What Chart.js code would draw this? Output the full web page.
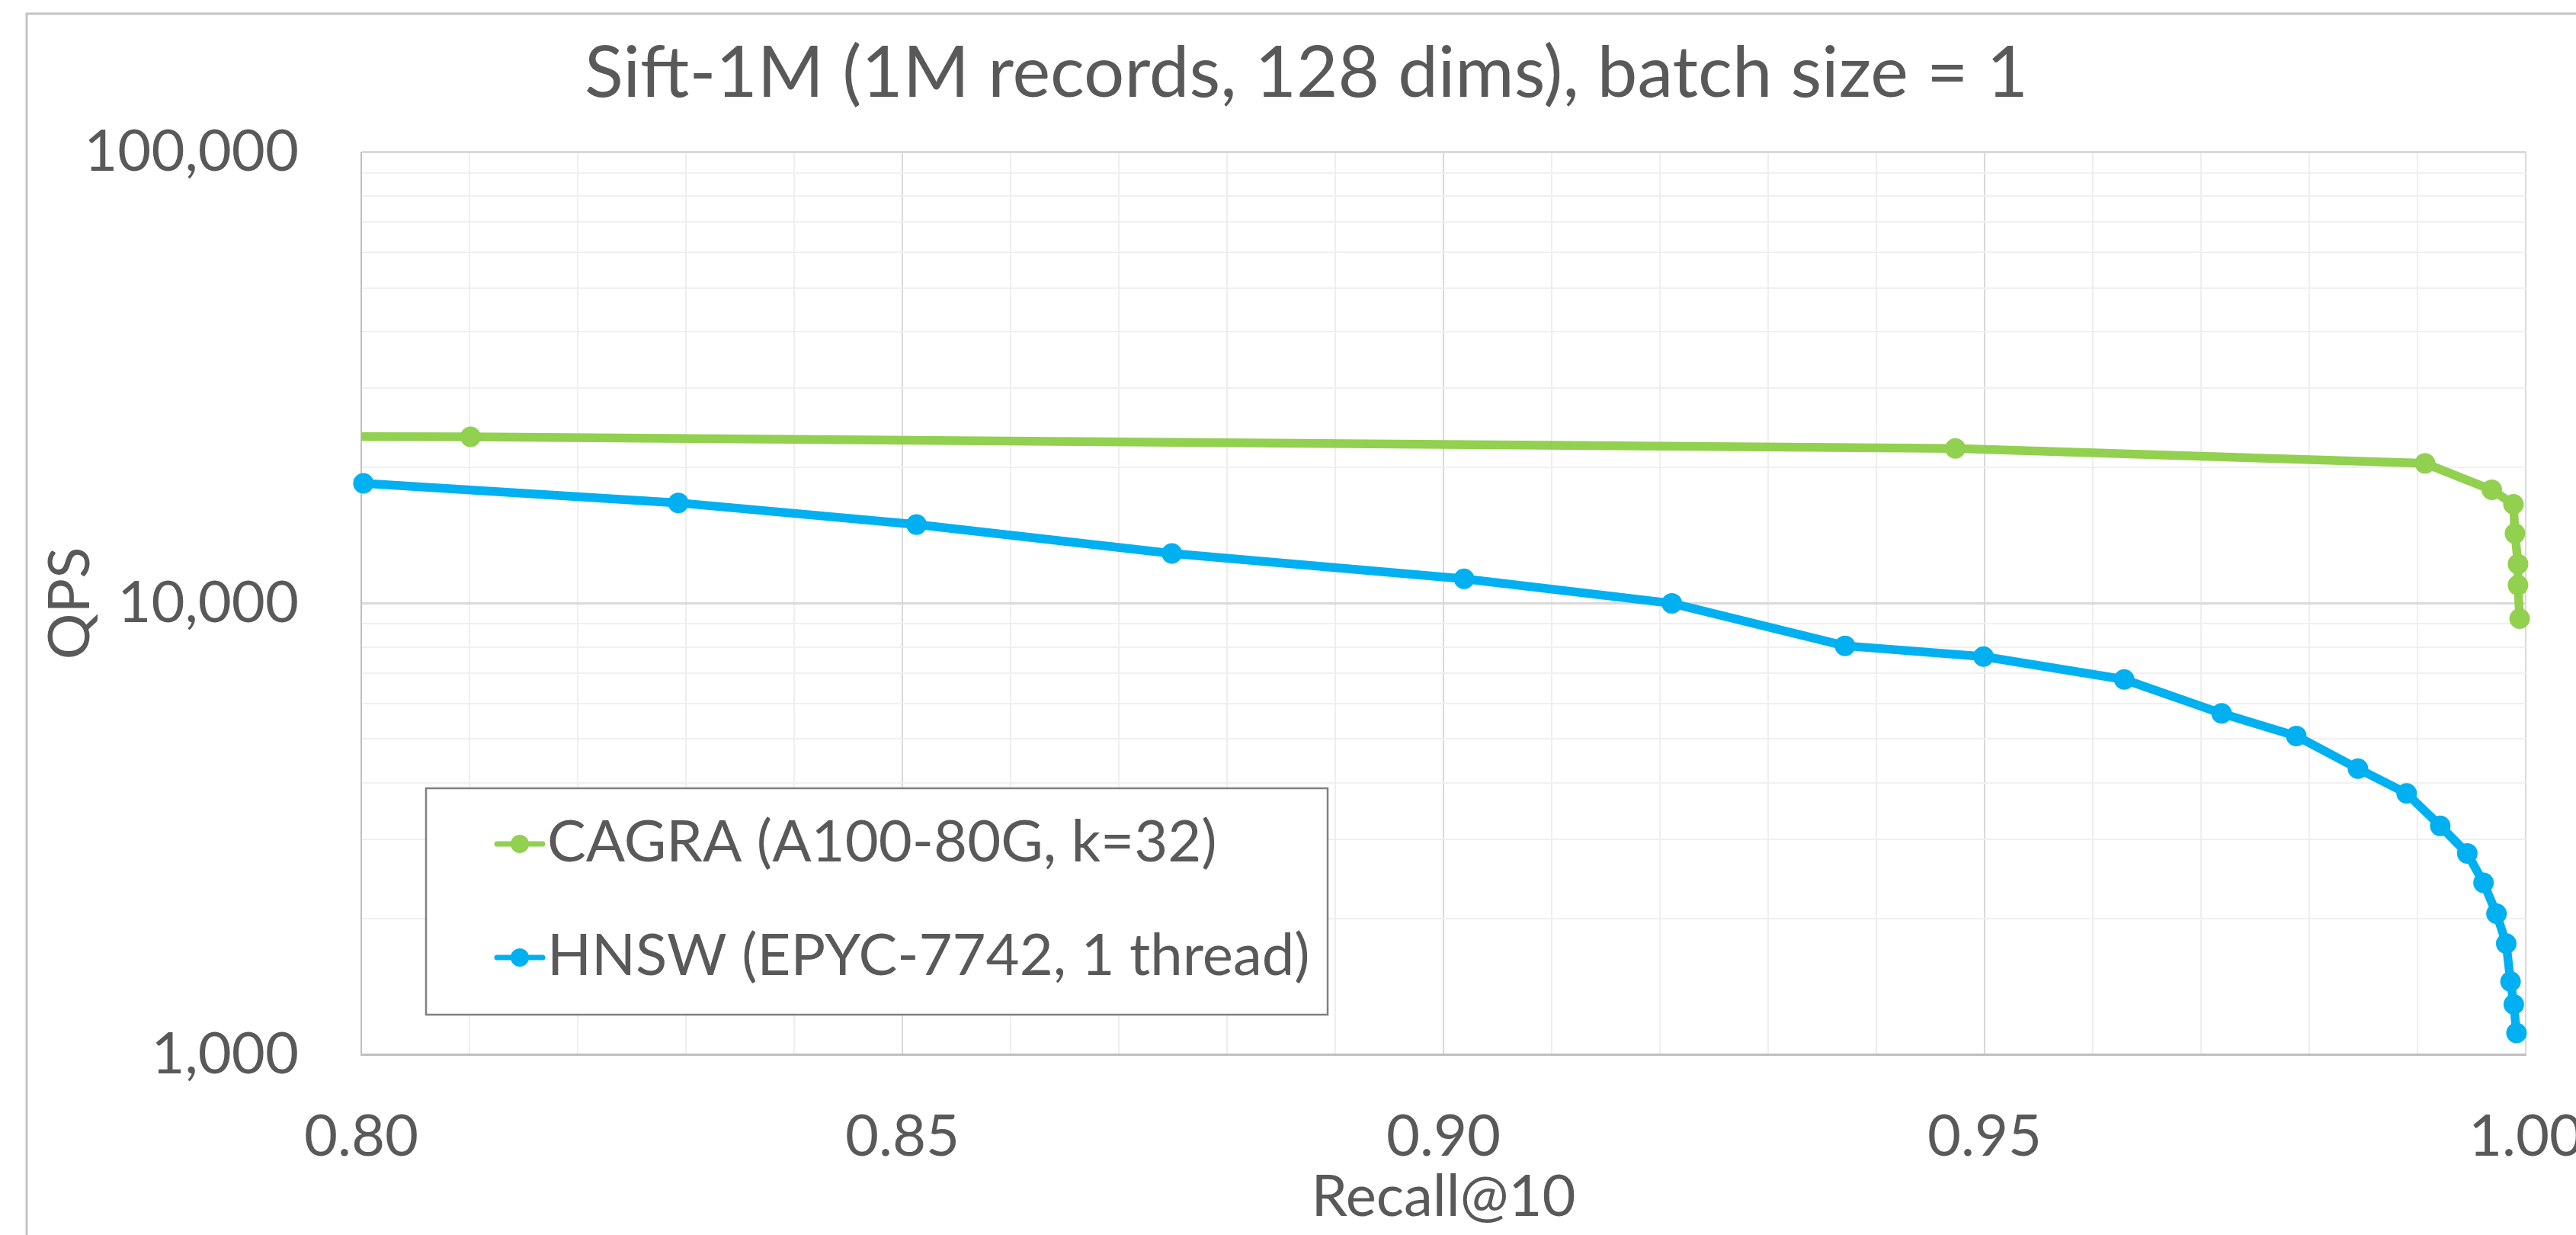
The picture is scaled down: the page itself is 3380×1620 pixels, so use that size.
<!DOCTYPE html>
<html>
<head>
<meta charset="utf-8">
<script src="https://cdn.jsdelivr.net/npm/chart.js@4.4.1/dist/chart.umd.min.js"></script>
<style>
html,body{margin:0;padding:0;background:#fff;overflow:hidden}
canvas{display:block}
</style>
</head>
<body>
<canvas id="c" width="3380" height="1620"></canvas>
<script>
// ---------- data ----------
const chartTitle = 'Sift-1M (1M records, 128 dims), batch size = 1';
const xAxisTitle = 'Recall@10';
const yAxisTitle = 'QPS';
const seriesNames = ['CAGRA (A100-80G, k=32)', 'HNSW (EPYC-7742, 1 thread)'];

const cagraRecall = [0.75, 0.8101, 0.9473, 0.9907, 0.99687, 0.99887, 0.99901, 0.99929, 0.99929, 0.99944];
const cagraQps    = [23500, 23400, 22050, 20430, 17850, 16580, 14280, 12220, 10970, 9250];

const hnswRecall = [0.8002, 0.8293, 0.8513, 0.8749, 0.9019, 0.9211, 0.9371, 0.9499, 0.9629, 0.9719, 0.9788,
                    0.9845, 0.9890, 0.9921, 0.9946, 0.9961, 0.9973, 0.9982, 0.9986, 0.9989, 0.99915];
const hnswQps    = [18450, 16700, 14950, 12900, 11330, 10000, 8050, 7620, 6780, 5700, 5080,
                    4300, 3790, 3210, 2790, 2400, 2050, 1760, 1450, 1290, 1115];

const xTickValues = [0.80, 0.85, 0.90, 0.95, 1.00];
const xTickLabels = ['0.80', '0.85', '0.90', '0.95', '1.00'];
const yTickValues = [1000, 10000, 100000];
const yTickLabels = ['1,000', '10,000', '100,000'];

// ---------- helpers ----------
const FONT = 'Lato';
const TEXT = '#595959';
const GREEN = '#92D050';
const BLUE = '#00B0F0';

const xGrid = [];
for (let i = 80; i <= 100; i++) xGrid.push(i / 100);
const yGrid = [];
for (let e = 3; e < 5; e++) for (let m = 1; m <= 9; m++) yGrid.push(m * Math.pow(10, e));
yGrid.push(100000);

const near = (a, b) => Math.abs(a - b) < 1e-9 * Math.max(1, Math.abs(b));
const xMajorIdx = v => xTickValues.findIndex(m => near(m, v));
const yMajorIdx = v => yTickValues.findIndex(m => near(m, v));

const toPts = (xs, ys) => xs.map((x, i) => ({x, y: ys[i]}));

const outerBorder = {
  id: 'outerBorder',
  beforeDraw(chart) {
    const c = chart.ctx;
    c.save();
    c.fillStyle = '#fff';
    c.fillRect(0, 0, chart.width, chart.height);
    c.strokeStyle = '#C4C4C4';
    c.lineWidth = 3;
    c.strokeRect(35, 18, chart.width + 100, chart.height + 100);
    c.restore();
  }
};

const boxLegend = {
  id: 'boxLegend',
  afterDatasetsDraw(chart, args, o) {
    const c = chart.ctx;
    c.save();
    c.fillStyle = '#fff';
    c.fillRect(o.x, o.y, o.w, o.h);
    c.strokeStyle = o.borderColor;
    c.lineWidth = o.borderWidth;
    c.strokeRect(o.x, o.y, o.w, o.h);
    chart.data.datasets.forEach((ds, i) => {
      const cy = o.rowY[i];
      c.strokeStyle = ds.borderColor;
      c.lineWidth = o.lineWidth;
      c.lineCap = 'round';
      c.beginPath();
      c.moveTo(o.symX0, cy);
      c.lineTo(o.symX1, cy);
      c.stroke();
      c.fillStyle = ds.pointBackgroundColor;
      c.beginPath();
      c.arc((o.symX0 + o.symX1) / 2, cy, o.r, 0, Math.PI * 2);
      c.fill();
      c.fillStyle = o.color;
      c.font = o.fontSize + 'px ' + FONT;
      c.textBaseline = 'middle';
      c.textAlign = 'left';
      c.fillText(ds.label, o.textX, cy - 2);
    });
    c.restore();
  }
};

Chart.defaults.font.family = FONT;
Chart.defaults.color = TEXT;

new Chart(document.getElementById('c'), {
  type: 'scatter',
  data: {
    datasets: [
      {
        label: seriesNames[0],
        data: toPts(cagraRecall, cagraQps),
        showLine: true,
        borderColor: GREEN,
        backgroundColor: GREEN,
        pointBackgroundColor: GREEN,
        pointBorderWidth: 0,
        pointRadius: 13.5,
        pointHoverRadius: 13.5,
        borderWidth: 11.5,
        tension: 0,
        borderJoinStyle: 'round',
        borderCapStyle: 'round',
        clip: {left: 0, top: false, right: false, bottom: false}
      },
      {
        label: seriesNames[1],
        data: toPts(hnswRecall, hnswQps),
        showLine: true,
        borderColor: BLUE,
        backgroundColor: BLUE,
        pointBackgroundColor: BLUE,
        pointBorderWidth: 0,
        pointRadius: 13.5,
        pointHoverRadius: 13.5,
        borderWidth: 11.5,
        tension: 0,
        borderJoinStyle: 'round',
        borderCapStyle: 'round',
        clip: false
      }
    ]
  },
  options: {
    responsive: false,
    animation: false,
    devicePixelRatio: 1,
    events: [],
    layout: {padding: {left: 34, right: -14, top: 17, bottom: 0}},
    plugins: {
      legend: {display: false},
      tooltip: {enabled: false},
      title: {
        display: true,
        text: chartTitle,
        color: TEXT,
        font: {family: FONT, size: 94, weight: 'normal', lineHeight: 1.2},
        padding: {top: 23, bottom: 47}
      },
      boxLegend: {
        x: 559, y: 1034, w: 1183, h: 297,
        borderColor: '#808080', borderWidth: 2.5,
        rowY: [1107, 1256],
        symX0: 652, symX1: 712, lineWidth: 7, r: 12,
        textX: 718, fontSize: 76, color: TEXT
      }
    },
    scales: {
      x: {
        type: 'linear',
        min: 0.8,
        max: 1.0,
        afterBuildTicks: s => { s.ticks = xGrid.map(v => ({value: v})); },
        afterFit: s => { s.height = 237; s.paddingLeft = 0; s.paddingRight = 66; },
        ticks: {
          autoSkip: false,
          maxRotation: 0,
          minRotation: 0,
          padding: 63,
          color: TEXT,
          font: {family: FONT, size: 76},
          callback: v => { const i = xMajorIdx(v); return i >= 0 ? xTickLabels[i] : ''; }
        },
        grid: {
          drawTicks: false,
          lineWidth: 2,
          color: ctx => (ctx.tick && xMajorIdx(ctx.tick.value) >= 0) ? '#D9D9D9' : '#EEEEEE'
        },
        border: {color: '#BFBFBF', width: 3},
        title: {
          display: true,
          text: xAxisTitle,
          color: TEXT,
          font: {family: FONT, size: 76, lineHeight: 1.2},
          padding: {top: 0, bottom: 4}
        }
      },
      y: {
        type: 'logarithmic',
        min: 1000,
        max: 100000,
        afterBuildTicks: s => { s.ticks = yGrid.map(v => ({value: v})); },
        afterFit: s => { s.width = 440; s.paddingTop = 0; s.paddingBottom = 0; },
        ticks: {
          autoSkip: false,
          padding: 82,
          color: TEXT,
          font: {family: FONT, size: 76},
          callback: v => { const i = yMajorIdx(v); return i >= 0 ? yTickLabels[i] : ''; }
        },
        grid: {
          drawTicks: false,
          lineWidth: ctx => (ctx.tick && yMajorIdx(ctx.tick.value) >= 0) ? 3 : 2,
          color: ctx => (ctx.tick && yMajorIdx(ctx.tick.value) >= 0) ? '#D9D9D9' : '#F0F0F0'
        },
        border: {color: '#BFBFBF', width: 2},
        title: {
          display: true,
          text: yAxisTitle,
          color: TEXT,
          font: {family: FONT, size: 76, lineHeight: 1.2},
          padding: {top: 13, bottom: 0}
        }
      }
    }
  },
  plugins: [outerBorder, boxLegend]
});
</script>
</body>
</html>
